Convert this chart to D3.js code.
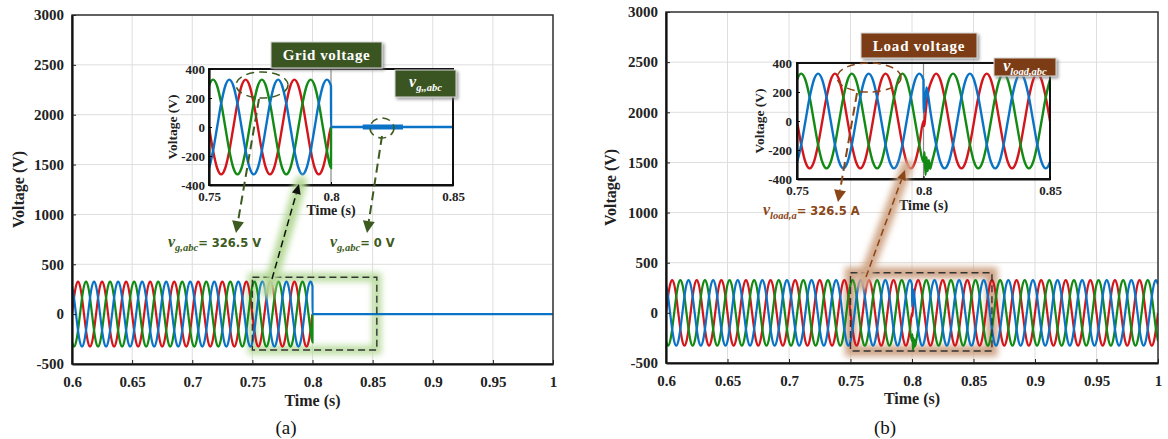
<!DOCTYPE html>
<html><head><meta charset="utf-8">
<script src="https://cdn.jsdelivr.net/npm/d3@7"></script>
<style>body{margin:0;background:#fff}svg{display:block}</style>
</head><body><svg id="c" width="1168" height="439"></svg>
<script>
// ---------------- data ----------------
const timeDomain = [0.6, 1.0];
const voltDomain = [-500, 3000];
const xTicks = [0.6, 0.65, 0.7, 0.75, 0.8, 0.85, 0.9, 0.95, 1];
const xTickLabels = ["0.6", "0.65", "0.7", "0.75", "0.8", "0.85", "0.9", "0.95", "1"];
const yTicks = [-500, 0, 500, 1000, 1500, 2000, 2500, 3000];
const yTickLabels = ["-500", "0", "500", "1000", "1500", "2000", "2500", "3000"];
const insetTimeDomain = [0.75, 0.85];
const insetVoltDomain = [-400, 400];
const insetXTicks = [0.75, 0.8, 0.85];
const insetXTickLabels = ["0.75", "0.8", "0.85"];
const insetYTicks = [-400, -200, 0, 200, 400];
const insetYTickLabels = ["-400", "-200", "0", "200", "400"];

const period = 0.02;                       // 50 Hz
const cycleSamples = [0, 163.3, 282.8, 326.5, 282.8, 163.3, 0, -163.3, -282.8, -326.5, -282.8, -163.3]; // one period, 30° steps
const phaseNames = ["a", "b", "c"];
const phaseSampleOffset = [0, 8, 4];       // a, b (-120°), c (+120°)
const phaseColors = ["#d2161c", "#128a14", "#0b73c6"];

// (a) grid voltage: disconnected at 0.8 s, then zero
const gridCutTime = 0.8;
const gridAfterValue = [0, 0, 0];
const gridZeroHighlight = [0.813, 0.8295];
// (b) load voltage: transient at 0.8 s
const loadTransientWindow = [0.8, 0.8033];
const loadTransientT = [
  [0.8003, 0.8008, 0.8014],
  [0.8004, 0.8008, 0.8012, 0.8016, 0.8021, 0.8026],
  [0.80005, 0.8006, 0.8012, 0.8019, 0.8026]
];
const loadTransientV = [
  [-35, 55, 150],
  [-215, -372, -250, -345, -270, -330],
  [60, 120, 232, 170, 80]
];
const zoomBoxA = {t: [0.75, 0.8535], v: [-360, 370]};
const zoomBoxB = {t: [0.75, 0.865], v: [-380, 400]};

// ---------------- layout ----------------
const panels = [
  {id: "a", x0: 72, x1: 553, yTop: 15, yBot: 364, yLabX: 18, tickLabEnd: 64, timeY: 406, capX: 286, capY: 434, cap: "(a)",
   inset: {x0: 209, x1: 453, yTop: 69, yBot: 185, vLabX: 172, tickEnd: 205, xLabY: 201, timeY: 215}},
  {id: "b", x0: 666, x1: 1158, yTop: 12, yBot: 363, yLabX: 610, tickLabEnd: 658, timeY: 404, capX: 885, capY: 434, cap: "(b)",
   inset: {x0: 797, x1: 1050, yTop: 63, yBot: 179, vLabX: 759, tickEnd: 792, xLabY: 195, timeY: 210}}
];
const serif = "'Liberation Serif','Times New Roman',serif";
const sans = "'DejaVu Sans',Verdana,sans-serif";
const greenDark = "#3b5423", brownDark = "#7c3e12", greenText = "#3d5a20", brownText = "#8a4617";

// ---------------- series construction ----------------
const dt = period / cycleSamples.length;
function baseSeries(p, tEnd) {
  const pts = [];
  const n = Math.round((tEnd - timeDomain[0]) / dt);
  for (let k = 0; k <= n; k++) {
    pts.push([timeDomain[0] + k * dt, cycleSamples[(k + phaseSampleOffset[p]) % cycleSamples.length]]);
  }
  return pts;
}
const gridSeries = phaseNames.map((_, p) => {
  const pts = baseSeries(p, gridCutTime);
  pts.push([gridCutTime + 0.00002, gridAfterValue[p]]);
  if (p === 2) pts.push([timeDomain[1], gridAfterValue[p]]);
  return pts;
});
const loadSeries = phaseNames.map((_, p) => {
  const pts = baseSeries(p, timeDomain[1]).filter(d => !(d[0] > loadTransientWindow[0] + 1e-9 && d[0] < loadTransientWindow[1] - 1e-9));
  loadTransientT[p].forEach((t, i) => pts.push([t, loadTransientV[p][i]]));
  pts.sort((a, b) => a[0] - b[0]);
  return pts;
});

// ---------------- drawing ----------------
const svg = d3.select("#c");
const defs = svg.append("defs");
defs.append("filter").attr("id", "blur").attr("x", "-50%").attr("y", "-50%").attr("width", "200%").attr("height", "200%")
  .append("feGaussianBlur").attr("stdDeviation", 3);
defs.append("filter").attr("id", "shadow").attr("x", "-20%").attr("y", "-20%").attr("width", "150%").attr("height", "160%")
  .append("feDropShadow").attr("dx", 2).attr("dy", 2).attr("stdDeviation", 1.5).attr("flood-color", "#777").attr("flood-opacity", 0.7);

function arrow(g, x1, y1, x2, y2, color, dash, width, headL, headW) {
  const a = Math.atan2(y2 - y1, x2 - x1);
  const bx = x2 - headL * Math.cos(a), by = y2 - headL * Math.sin(a);
  g.append("line").attr("x1", x1).attr("y1", y1).attr("x2", bx).attr("y2", by)
    .attr("stroke", color).attr("stroke-width", width).attr("stroke-dasharray", dash);
  const nx = -Math.sin(a) * headW / 2, ny = Math.cos(a) * headW / 2;
  g.append("path").attr("d", `M${x2},${y2}L${bx + nx},${by + ny}L${bx - nx},${by - ny}Z`).attr("fill", color);
}
function glowLine(g, x1, y1, x2, y2, color, w) {
  g.append("line").attr("x1", x1).attr("y1", y1).attr("x2", x2).attr("y2", y2)
    .attr("stroke", color).attr("stroke-width", w).attr("stroke-linecap", "round").attr("filter", "url(#blur)");
}
function richText(g, x, y, sub, rest, color, anchor) {
  const t = g.append("text").attr("x", x).attr("y", y).attr("fill", color).attr("text-anchor", anchor || "start");
  t.append("tspan").attr("font-family", serif).attr("font-style", "italic").attr("font-weight", "bold").attr("font-size", 16).text("v");
  t.append("tspan").attr("font-family", serif).attr("font-style", "italic").attr("font-weight", "bold").attr("font-size", 10.5).attr("dy", 4).text(sub);
  if (rest) t.append("tspan").attr("font-family", sans).attr("font-weight", "bold").attr("font-size", 11.5).attr("dy", -4).text(rest);
  return t;
}

panels.forEach((P, pi) => {
  const g = svg.append("g");
  const x = d3.scaleLinear().domain(timeDomain).range([P.x0, P.x1]);
  const y = d3.scaleLinear().domain(voltDomain).range([P.yBot, P.yTop]);
  const series = pi === 0 ? gridSeries : loadSeries;

  // grid
  g.append("g").selectAll("line").data(xTicks).join("line")
    .attr("x1", d => x(d)).attr("x2", d => x(d)).attr("y1", P.yTop).attr("y2", P.yBot).attr("stroke", "#dedede");
  g.append("g").selectAll("line").data(yTicks).join("line")
    .attr("y1", d => y(d)).attr("y2", d => y(d)).attr("x1", P.x0).attr("x2", P.x1).attr("stroke", "#dedede");

  // zoom box glow
  const zb = pi === 0 ? zoomBoxA : zoomBoxB;
  const glowC = pi === 0 ? "#bcdda2" : "#cfa588";
  g.append("rect").attr("x", x(zb.t[0])).attr("y", y(zb.v[1])).attr("width", x(zb.t[1]) - x(zb.t[0])).attr("height", y(zb.v[0]) - y(zb.v[1]))
    .attr("fill", "none").attr("stroke", glowC).attr("stroke-width", pi === 0 ? 9 : 11).attr("filter", "url(#blur)");

  // series
  const clipId = "clip" + P.id;
  defs.append("clipPath").attr("id", clipId).append("rect").attr("x", P.x0).attr("y", P.yTop).attr("width", P.x1 - P.x0).attr("height", P.yBot - P.yTop);
  const line = d3.line().x(d => x(d[0])).y(d => y(d[1])).curve(d3.curveMonotoneX);
  g.append("g").attr("clip-path", `url(#${clipId})`).selectAll("path").data(series).join("path")
    .attr("d", line).attr("fill", "none").attr("stroke", (d, i) => phaseColors[i]).attr("stroke-width", 2.2);

  // zoom box dashed
  g.append("rect").attr("x", x(zb.t[0])).attr("y", y(zb.v[1])).attr("width", x(zb.t[1]) - x(zb.t[0])).attr("height", y(zb.v[0]) - y(zb.v[1]))
    .attr("fill", "none").attr("stroke", "#333").attr("stroke-width", 1.4).attr("stroke-dasharray", "7,4");

  // frame
  g.append("rect").attr("x", P.x0).attr("y", P.yTop).attr("width", P.x1 - P.x0).attr("height", P.yBot - P.yTop)
    .attr("fill", "none").attr("stroke", "#333").attr("stroke-width", 1.5);
  // axes
  const xa = g.append("g").attr("transform", `translate(0,${P.yBot})`)
    .call(d3.axisBottom(x).tickValues(xTicks).tickFormat((d, i) => xTickLabels[i]).tickSizeInner(-4).tickSizeOuter(0).tickPadding(12));
  const ya = g.append("g").attr("transform", `translate(${P.x0},0)`)
    .call(d3.axisLeft(y).tickValues(yTicks).tickFormat((d, i) => yTickLabels[i]).tickSizeInner(-4).tickSizeOuter(0).tickPadding(8));
  [xa, ya].forEach(a => {
    a.select(".domain").attr("stroke", "#111").attr("stroke-width", 2.2);
    a.selectAll(".tick line").attr("stroke", "#222");
    a.selectAll("text").attr("font-family", serif).attr("font-weight", "bold").attr("font-size", 15).attr("fill", "#222");
  });
  g.append("text").attr("transform", `translate(${P.yLabX},${(P.yTop + P.yBot) / 2}) rotate(-90)`).attr("dy", "0.35em")
    .attr("text-anchor", "middle").attr("font-family", serif).attr("font-weight", "bold").attr("font-size", 16).attr("fill", "#222").text("Voltage (V)");
  g.append("text").attr("x", (P.x0 + P.x1) / 2).attr("y", P.timeY).attr("text-anchor", "middle")
    .attr("font-family", serif).attr("font-weight", "bold").attr("font-size", 16).attr("fill", "#222").text("Time (s)");
  g.append("text").attr("x", P.capX).attr("y", P.capY).attr("text-anchor", "middle")
    .attr("font-family", serif).attr("font-size", 19).attr("fill", "#111").text(P.cap);

  // ---------- inset ----------
  const I = P.inset;
  const xi = d3.scaleLinear().domain(insetTimeDomain).range([I.x0, I.x1]);
  const yi = d3.scaleLinear().domain(insetVoltDomain).range([I.yBot, I.yTop]);
  const ig = svg.append("g");
  ig.append("line").attr("x1", xi(0.8)).attr("x2", xi(0.8)).attr("y1", I.yTop).attr("y2", I.yBot).attr("stroke", "#8a8a8a").attr("stroke-width", 1.2);
  const iclip = "iclip" + P.id;
  defs.append("clipPath").attr("id", iclip).append("rect").attr("x", I.x0).attr("y", I.yTop).attr("width", I.x1 - I.x0).attr("height", I.yBot - I.yTop);
  const iline = d3.line().x(d => xi(d[0])).y(d => yi(d[1])).curve(d3.curveMonotoneX);
  const isg = ig.append("g").attr("clip-path", `url(#${iclip})`);
  isg.selectAll("path").data(series).join("path")
    .attr("d", iline).attr("fill", "none").attr("stroke", (d, i) => phaseColors[i]).attr("stroke-width", 2.4);
  if (pi === 0) {
    isg.append("line").attr("x1", xi(gridZeroHighlight[0])).attr("x2", xi(gridZeroHighlight[1]))
      .attr("y1", yi(0)).attr("y2", yi(0)).attr("stroke", phaseColors[2]).attr("stroke-width", 5);
  }
  ig.append("rect").attr("x", I.x0).attr("y", I.yTop).attr("width", I.x1 - I.x0).attr("height", I.yBot - I.yTop)
    .attr("fill", "none").attr("stroke", "#111").attr("stroke-width", 2);
  const ixa = ig.append("g").attr("transform", `translate(0,${I.yBot})`)
    .call(d3.axisBottom(xi).tickValues(insetXTicks).tickFormat((d, i) => insetXTickLabels[i]).tickSizeInner(-3).tickSizeOuter(0).tickPadding(I.xLabY - I.yBot - 9));
  const iya = ig.append("g").attr("transform", `translate(${I.x0},0)`)
    .call(d3.axisLeft(yi).tickValues(insetYTicks).tickFormat((d, i) => insetYTickLabels[i]).tickSizeInner(-3).tickSizeOuter(0).tickPadding(I.x0 - I.tickEnd));
  [ixa, iya].forEach(a => {
    a.select(".domain").attr("stroke", "#111").attr("stroke-width", 2.2);
    a.selectAll("text").attr("font-family", serif).attr("font-weight", "bold").attr("font-size", 13).attr("fill", "#222");
  });
  ig.append("text").attr("transform", `translate(${I.vLabX},${(I.yTop + I.yBot) / 2}) rotate(-90)`).attr("dy", "0.35em")
    .attr("text-anchor", "middle").attr("font-family", serif).attr("font-weight", "bold").attr("font-size", 13.5).attr("fill", "#222").text("Voltage (V)");
  ig.append("text").attr("x", xi(0.8)).attr("y", I.timeY).attr("text-anchor", "middle")
    .attr("font-family", serif).attr("font-weight", "bold").attr("font-size", 14).attr("fill", "#222").text("Time (s)");
});

// ---------------- annotations ----------------
const an = svg.append("g");
// panel (a)
glowLine(an, 268, 292, 301, 182, "#b5d998", 12);
arrow(an, 272, 279, 299, 184, "#111", "7,4", 1.5, 10, 9);
an.append("ellipse").attr("cx", 262).attr("cy", 85).attr("rx", 26).attr("ry", 13)
  .attr("fill", "none").attr("stroke", greenText).attr("stroke-width", 1.5).attr("stroke-dasharray", "8,5");
an.append("ellipse").attr("cx", 382).attr("cy", 128).attr("rx", 12).attr("ry", 10)
  .attr("fill", "none").attr("stroke", greenText).attr("stroke-width", 1.5).attr("stroke-dasharray", "8,5");
arrow(an, 259, 99, 236, 233, greenText, "9,5", 2, 12, 12);
arrow(an, 382, 136, 367, 233, greenText, "9,5", 2, 12, 12);
richText(an, 168, 247, "g,abc", "= 326.5 V", greenText);
richText(an, 330, 247, "g,abc", "= 0 V", greenText);
an.append("rect").attr("x", 271).attr("y", 42).attr("width", 111).attr("height", 26).attr("fill", greenDark)
  .attr("stroke", "#d8d8d8").attr("filter", "url(#shadow)");
an.append("text").attr("x", 326.5).attr("y", 60).attr("text-anchor", "middle").attr("font-family", serif)
  .attr("font-weight", "bold").attr("font-size", 15).attr("letter-spacing", 0.6).attr("fill", "#fff").text("Grid voltage");
an.append("rect").attr("x", 395).attr("y", 70).attr("width", 61).attr("height", 27).attr("fill", greenDark)
  .attr("stroke", "#d8d8d8").attr("filter", "url(#shadow)");
richText(an, 425.5, 87, "g,,abc", null, "#fff", "middle");

// panel (b)
glowLine(an, 862, 285, 907, 166, "#d2a98b", 12);
arrow(an, 866, 277, 905, 170, brownText, "7,4", 1.5, 10, 9);
an.append("ellipse").attr("cx", 869).attr("cy", 77.5).attr("rx", 32).attr("ry", 14.5)
  .attr("fill", "none").attr("stroke", brownText).attr("stroke-width", 1.5).attr("stroke-dasharray", "8,5");
arrow(an, 857, 93, 838, 202, brownText, "9,5", 2, 12, 12);
richText(an, 763, 215, "load,a", "= 326.5 A", brownText);
an.append("rect").attr("x", 861).attr("y", 33).attr("width", 116).attr("height", 25).attr("fill", brownDark)
  .attr("stroke", "#d8d8d8").attr("filter", "url(#shadow)");
an.append("text").attr("x", 919).attr("y", 50.5).attr("text-anchor", "middle").attr("font-family", serif)
  .attr("font-weight", "bold").attr("font-size", 15).attr("letter-spacing", 0.8).attr("fill", "#fff").text("Load voltage");
an.append("rect").attr("x", 994).attr("y", 58).attr("width", 62).attr("height", 18).attr("fill", brownDark)
  .attr("stroke", "#d8d8d8").attr("filter", "url(#shadow)");
richText(an, 1025, 71, "load,abc", null, "#fff", "middle");
</script></body></html>
